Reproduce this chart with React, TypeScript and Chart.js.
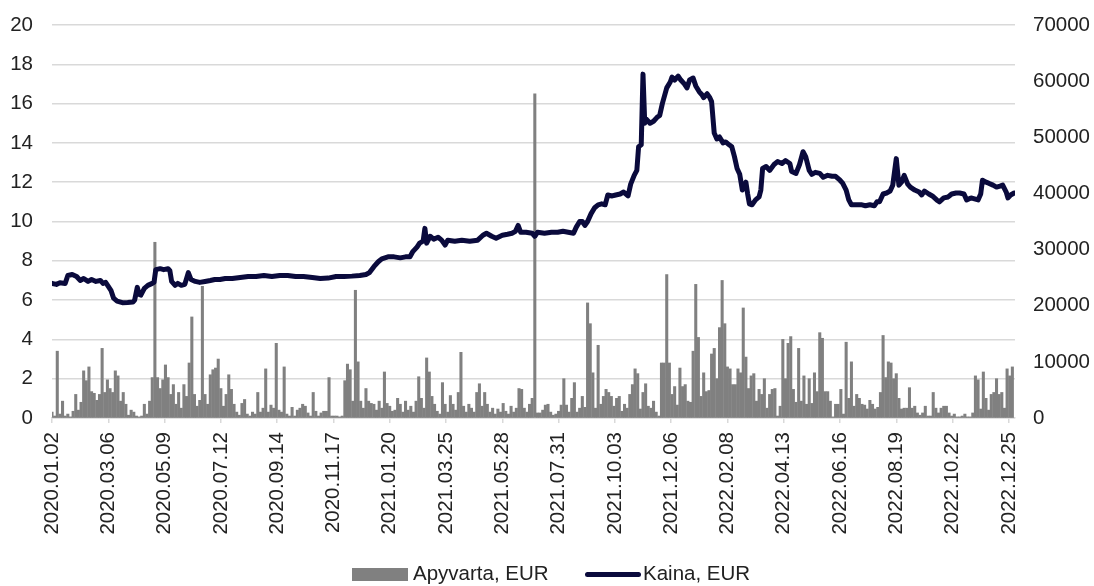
import React, { useEffect, useRef } from "react";
import { Chart, registerables } from "chart.js";

Chart.register(...registerables);

// x axis: day offsets from 2020.01.02
const tickDays = [0, 64, 128, 192, 256, 320, 384, 448, 512, 576, 640, 704, 768, 832, 896, 960, 1024, 1088];
const tickLabels = [
  "2020.01.02", "2020.03.06", "2020.05.09", "2020.07.12", "2020.09.14", "2020.11.17",
  "2021.01.20", "2021.03.25", "2021.05.28", "2021.07.31", "2021.10.03", "2021.12.06",
  "2022.02.08", "2022.04.13", "2022.06.16", "2022.08.19", "2022.10.22", "2022.12.25",
];
const X_MAX_DAY = 1095;

// Kaina, EUR (left axis) – day offset and price
const priceDays = [
  0, 5, 9, 15, 18, 23, 28, 32, 36, 41, 45, 50, 55, 58, 61, 64, 67, 70, 74, 80, 86, 92, 94, 97, 99, 101, 105, 109, 114, 116,
  118, 123, 127, 132, 134, 136, 140, 143, 147, 151, 155, 158, 163, 168, 174, 180, 185, 191, 197,
  205, 214, 223, 232, 241, 250, 259, 268, 277, 286, 296, 305, 314, 323, 332, 341, 350, 357, 361, 366, 371, 375, 382, 389, 396, 402, 407,
  410, 415, 418, 422, 424, 426, 430, 434, 439, 443, 447, 450, 458, 466, 475, 484, 490, 494, 500, 505, 512, 518, 523, 527, 530, 533,
  539, 546, 549, 552, 560, 568, 575, 581, 587, 593,
  596, 600, 603, 606, 609, 613, 617, 621, 625, 629, 632, 637, 641, 646, 650, 655, 658, 662, 665, 667, 670, 672, 674, 676, 680, 684,
  688, 691, 694, 699, 703, 705, 708, 712, 715, 719, 722, 725, 729, 732, 736, 739, 741, 745, 748, 750, 753, 756, 759, 763, 766, 770,
  773, 776, 779, 782, 785, 789, 791, 793, 796, 800, 804, 806, 808, 812, 816, 821, 825, 830, 834, 839, 841, 846, 850, 854, 857, 861,
  864, 868, 873, 877, 882, 887, 891, 896, 899, 903, 906, 909, 915, 921, 925, 930, 935, 938,
  941, 945, 949, 953, 956, 960, 963, 966, 969, 973, 976, 981, 986, 989, 992, 997, 1001, 1006, 1009, 1014, 1019, 1023, 1028, 1032,
  1037, 1040, 1045, 1049, 1053, 1056, 1058, 1062, 1065, 1070, 1074, 1078, 1081, 1085, 1087, 1090, 1094,
];
const prices = [
  6.85, 6.8, 6.88, 6.85, 7.25, 7.3, 7.2, 7.0, 7.1, 6.95, 7.05, 6.95, 7.0, 6.85, 6.9, 6.7, 6.5, 6.1, 5.95, 5.87, 5.88, 5.9, 6.0, 6.65, 6.3, 6.25, 6.6, 6.75, 6.85, 6.9,
  7.55, 7.6, 7.55, 7.6, 7.5, 6.95, 6.75, 6.85, 6.75, 6.8, 7.4, 7.05, 6.95, 6.9, 6.95, 7.0, 7.05, 7.05, 7.1,
  7.1, 7.15, 7.2, 7.2, 7.25, 7.2, 7.25, 7.25, 7.2, 7.2, 7.15, 7.1, 7.12, 7.2, 7.2, 7.22, 7.25, 7.3, 7.4, 7.7, 7.95, 8.1, 8.2, 8.2, 8.15, 8.2, 8.2,
  8.45, 8.7, 8.9, 9.0, 9.65, 8.9, 9.25, 9.1, 9.2, 9.05, 8.8, 9.05, 9.0, 9.05, 9.0, 9.05, 9.3, 9.4, 9.25, 9.15, 9.3, 9.35, 9.4, 9.5, 9.8, 9.45,
  9.45, 9.4, 9.25, 9.45, 9.4, 9.45, 9.45, 9.5, 9.45, 9.4,
  9.7, 10.0, 10.0, 9.8, 10.0, 10.4, 10.7, 10.85, 10.9, 10.85, 11.35, 11.3, 11.35, 11.4, 11.5, 11.3, 11.9, 12.35, 12.6, 13.8, 13.9, 17.5, 15.0, 15.2, 15.0, 15.1,
  15.3, 15.4, 16.0, 16.8, 17.1, 17.35, 17.2, 17.4, 17.2, 17.0, 16.8, 17.2, 17.3, 16.9, 16.6, 16.45, 16.3, 16.5, 16.3, 16.1, 14.5, 14.2, 14.3, 14.0, 14.05, 13.9,
  13.8, 13.3, 12.7, 12.4, 11.6, 12.0, 11.4, 10.9, 10.85, 11.1, 11.25, 11.6, 12.7, 12.8, 12.6, 12.9, 13.05, 12.95, 13.1, 12.95, 12.55, 12.45, 12.9, 13.55, 13.3, 12.6,
  12.4, 12.5, 12.45, 12.25, 12.35, 12.3, 12.3, 12.1, 11.95, 11.6, 11.1, 10.85, 10.85, 10.85, 10.8, 10.85, 10.8, 11.0,
  11.0, 11.4, 11.45, 11.55, 11.85, 13.2, 11.85, 12.0, 12.35, 11.9, 11.75, 11.6, 11.5, 11.35, 11.55, 11.4, 11.3, 11.1, 11.0, 11.2, 11.25, 11.4, 11.45, 11.45,
  11.4, 11.1, 11.2, 11.15, 11.1, 11.4, 12.1, 12.0, 11.95, 11.85, 11.75, 11.8, 11.85, 11.5, 11.2, 11.35, 11.45,
];

// Apyvarta, EUR (right axis) – one value per 3-day period starting 2020.01.02
const VOLUME_STEP_DAYS = 3;
const volumes = [
  1050, 350, 11900, 700, 3000, 350, 700, 200, 1200, 4200,
  1400, 2800, 8400, 6650, 9100, 4700, 4400, 3150, 4200, 12400,
  4550, 6800, 5250, 4550, 8400, 7500, 3000, 4550, 2450, 500,
  1400, 1050, 350, 200, 350, 2450, 700, 3000, 7200, 31300,
  7200, 5250, 6800, 9450, 7200, 4200, 5950, 2450, 4550, 1750,
  5950, 3850, 9800, 18000, 4200, 2100, 3150, 23450, 4200, 2450,
  7700, 8600, 8900, 10500, 5250, 2100, 4200, 7700, 5100, 2450,
  1050, 500, 2600, 3300, 700, 350, 1050, 700, 4550, 1050,
  1750, 8750, 1050, 2300, 1750, 13300, 1400, 1050, 9100, 700,
  350, 1900, 350, 1400, 1750, 2450, 2100, 900, 350, 4550,
  1200, 350, 900, 1200, 1200, 7200, 350, 350, 350, 200,
  350, 6650, 9600, 8600, 3000, 22750, 10000, 3000, 1750, 5250,
  3000, 2600, 2450, 1400, 3000, 1750, 8200, 2600, 2100, 1200,
  1400, 3500, 2450, 1050, 3000, 1400, 2100, 1050, 3000, 7350,
  3500, 1750, 10700, 8200, 3850, 2450, 1200, 700, 6300, 2450,
  1050, 4000, 2450, 1400, 4550, 11700, 2100, 1050, 2450, 1750,
  1050, 4550, 6100, 2100, 4550, 2450, 1050, 1750, 700, 1600,
  1050, 2600, 1200, 700, 2100, 1050, 1750, 5250, 5100, 1750,
  1050, 2450, 3500, 57750, 900, 900, 1400, 2300, 2450, 1050,
  500, 700, 1200, 2300, 7000, 2300, 1050, 3500, 6300, 1050,
  1750, 3850, 1900, 20500, 16800, 8050, 1750, 12950, 2450, 3850,
  5100, 4550, 3850, 2100, 3500, 3850, 1200, 2450, 1750, 4200,
  5950, 8750, 7900, 1600, 4550, 6100, 2100, 1750, 3000, 1050,
  350, 9800, 9800, 25550, 9800, 4200, 5600, 2300, 8900, 5600,
  5950, 3000, 2800, 11900, 23800, 14350, 3850, 8050, 4700, 4900,
  11400, 12400, 7000, 16100, 24500, 16800, 9100, 8750, 5950, 5950,
  8750, 8050, 19600, 10850, 5250, 7500, 7900, 3000, 5100, 4200,
  7000, 1750, 4200, 5100, 5250, 350, 2100, 14000, 7000, 13300,
  14500, 5100, 2800, 12400, 3000, 7500, 2450, 7000, 2600, 8050,
  4700, 15200, 14200, 4700, 4700, 3000, 200, 2450, 2450, 5100,
  700, 13500, 3500, 10000, 2100, 4200, 3500, 2450, 2300, 1600,
  3150, 2450, 1600, 1900, 4550, 14700, 7200, 10000, 9800, 7000,
  7900, 3500, 1600, 1750, 1750, 5400, 1750, 2100, 900, 500,
  900, 2100, 350, 350, 4550, 1750, 900, 1750, 2100, 2100,
  900, 350, 700, 200, 200, 350, 700, 200, 200, 900,
  7500, 6800, 1600, 8200, 3500, 1400, 4200, 4550, 7000, 4200,
  4550, 1750, 8750, 7500, 9100,
];

const FONT = { family: '"Liberation Sans", Arial, sans-serif', size: 20.5 };
const TEXT = "#222222";
const GRID = "#d9d9d9";
const LINE_COLOR = "#0a0a3c";
const BAR_COLOR = "#808080";

export default function App() {
  const canvasRef = useRef<HTMLCanvasElement | null>(null);

  useEffect(() => {
    if (!canvasRef.current) return;
    const priceData = priceDays.map((d, i) => ({ x: d, y: prices[i] }));
    const volumeData = volumes.map((v, i) => ({ x: i * VOLUME_STEP_DAYS, y: v }));

    const chart = new Chart(canvasRef.current, {
      type: "bar",
      data: {
        datasets: [
          {
            type: "bar",
            label: "Apyvarta, EUR",
            data: volumeData as any,
            backgroundColor: BAR_COLOR,
            borderWidth: 0,
            barThickness: 2.4,
            grouped: false,
            yAxisID: "y1",
            order: 2,
          } as any,
          {
            type: "line",
            label: "Kaina, EUR",
            data: priceData as any,
            borderColor: LINE_COLOR,
            backgroundColor: LINE_COLOR,
            borderWidth: 5,
            pointRadius: 0,
            tension: 0,
            borderJoinStyle: "round",
            borderCapStyle: "round",
            yAxisID: "y",
            order: 1,
          } as any,
        ],
      },
      options: {
        animation: false,
        responsive: true,
        maintainAspectRatio: false,
        layout: { padding: { top: 25, left: 0, right: 0, bottom: 0 } },
        plugins: { legend: { display: false }, tooltip: { enabled: false } },
        scales: {
          x: {
            type: "linear",
            position: "bottom",
            min: 0,
            max: X_MAX_DAY,
            offset: false,
            afterBuildTicks: (s: any) => {
              s.ticks = tickDays.map((v) => ({ value: v }));
            },
            afterFit: (s: any) => {
              s.height = 168;
              s.paddingLeft = 0;
              s.paddingRight = 0;
            },
            ticks: {
              autoSkip: false,
              maxRotation: 90,
              minRotation: 90,
              padding: 9,
              color: TEXT,
              font: FONT,
              callback: (_v: any, i: number) => tickLabels[i],
            },
            grid: { drawOnChartArea: false, drawTicks: true, tickLength: 5, color: GRID, lineWidth: 1.5, offset: false },
            border: { display: true, color: GRID, width: 1.5 },
          },
          y: {
            position: "left",
            min: 0,
            max: 20,
            afterFit: (s: any) => {
              s.width = 52;
              s.paddingTop = 0;
              s.paddingBottom = 0;
            },
            ticks: { stepSize: 2, padding: 19, color: TEXT, font: FONT },
            grid: { color: GRID, lineWidth: 1.5, drawTicks: false },
            border: { display: false },
          },
          y1: {
            position: "right",
            min: 0,
            max: 70000,
            afterFit: (s: any) => {
              s.width = 79;
              s.paddingTop = 0;
              s.paddingBottom = 0;
            },
            ticks: { stepSize: 10000, padding: 18, color: TEXT, font: FONT, callback: (v: any) => String(v) },
            grid: { drawOnChartArea: false, drawTicks: false },
            border: { display: false },
          },
        },
      } as any,
    });
    return () => chart.destroy();
  }, []);

  const legendText: React.CSSProperties = {
    position: "absolute",
    top: 563,
    fontFamily: FONT.family,
    fontSize: FONT.size,
    lineHeight: `${FONT.size}px`,
    color: TEXT,
    whiteSpace: "nowrap",
  };

  return (
    <div style={{ position: "absolute", left: 0, top: 0, width: 1094, height: 586, background: "#fff" }}>
      <canvas ref={canvasRef} />
      <div style={{ position: "absolute", left: 352, top: 568, width: 56, height: 13, background: BAR_COLOR }} />
      <div style={{ ...legendText, left: 413 }}>Apyvarta, EUR</div>
      <div style={{ position: "absolute", left: 585, top: 572, width: 56, height: 5, borderRadius: 3, background: LINE_COLOR }} />
      <div style={{ ...legendText, left: 643 }}>Kaina, EUR</div>
    </div>
  );
}
